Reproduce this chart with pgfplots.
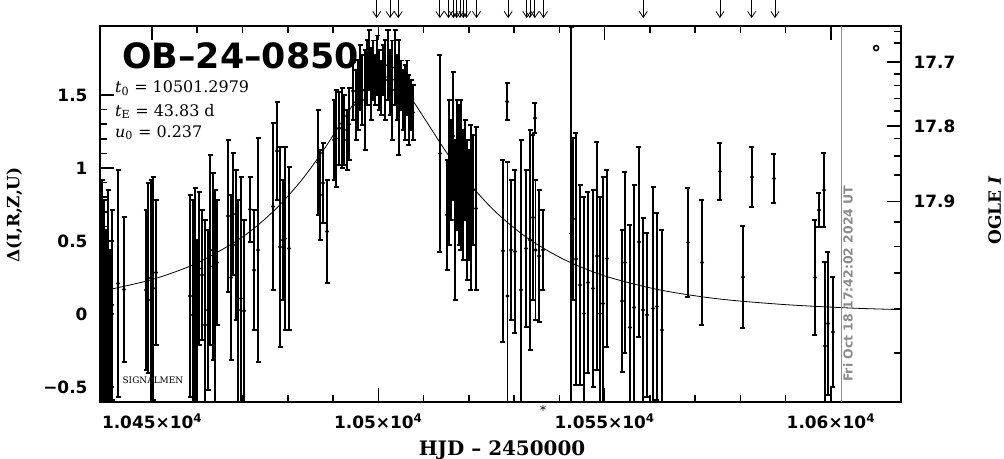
\documentclass[border=0pt]{standalone}
\usepackage{fontspec}
\setmainfont{DejaVu Serif}
\newfontfamily\tickfont{DejaVu Sans}
\usepackage{pgfplots}
\pgfplotsset{compat=1.18}
\usepackage{pgfplotstable}
\usetikzlibrary{arrows.meta}

\pgfplotstableread{
x y e
10438.95 0.062 0.856
10439.39 0.027 0.753
10439.84 -0.041 0.616
10440.28 0.062 0.788
10440.72 -0.212 0.651
10441.16 0.062 0.651
10442.49 0.209 0.777
10443.81 0.168 0.497
10448.67 0.164 0.548
10449.12 0.247 0.651
10449.78 0.096 0.822
10450.22 0.175 0.764
10450.88 0.284 0.497
10458.40 0.123 0.692
10459.06 -0.007 0.788
10459.50 0.068 0.795
10459.94 -0.075 0.582
10460.38 0.312 0.524
10461.05 0.267 0.445
10461.71 -0.075 0.719
10462.37 0.027 0.548
10462.82 0.438 0.651
10463.48 0.325 0.640
10463.92 0.062 0.788
10464.36 0.353 0.428
10466.79 0.671 0.521
10467.46 0.250 0.565
10467.90 0.685 0.418
10468.56 0.473 0.514
10469.00 0.027 0.753
10469.66 0.106 0.832
10470.33 0.021 0.623
10471.65 0.716 0.223
10472.54 0.301 0.411
10473.42 0.438 0.767
10476.73 0.736 0.572
10477.62 1.116 0.336
10478.28 0.459 0.685
10478.94 0.507 0.411
10479.39 0.517 0.627
10480.27 0.449 0.558
10486.68 1.038 0.360
10487.12 0.815 0.308
10487.78 0.897 0.274
10488.67 0.565 0.353
10490.21 1.192 0.274
10490.65 1.202 0.332
10491.32 1.271 0.250
10491.98 1.274 0.274
10492.42 1.260 0.240
10493.09 1.192 0.205
10493.53 1.301 0.247
10494.41 1.527 0.199
10495.07 1.432 0.240
10495.52 1.500 0.240
10495.96 1.620 0.223
10496.40 1.534 0.240
10497.06 1.466 0.342
10497.50 1.654 0.223
10497.95 1.740 0.205
10498.39 1.575 0.247
10498.83 1.671 0.205
10499.27 1.603 0.171
10499.71 1.705 0.205
10500.16 1.603 0.205
10500.60 1.551 0.188
10501.04 1.671 0.171
10501.48 1.603 0.274
10502.14 1.705 0.240
10502.59 1.586 0.223
10503.03 1.534 0.342
10503.69 1.688 0.257
10504.13 1.551 0.223
10504.57 1.483 0.394
10505.02 1.568 0.171
10505.46 1.466 0.205
10505.90 1.449 0.257
10506.34 1.551 0.188
10506.78 1.397 0.240
10507.23 1.432 0.171
10507.67 1.380 0.188
10513.63 1.099 0.675
10515.18 0.678 0.377
10515.62 0.969 0.497
10516.06 0.986 0.342
10516.51 1.219 0.438
10516.95 0.644 0.548
10517.39 1.021 0.445
10517.83 0.952 0.479
10518.27 0.952 0.514
10518.72 0.815 0.445
10519.16 0.986 0.342
10519.60 0.712 0.479
10520.04 0.747 0.377
10520.48 0.729 0.565
10520.92 0.849 0.377
10521.59 0.723 0.558
10527.55 0.432 0.623
10528.44 1.455 0.127
10528.55 0.123 0.918
10529.32 0.438 0.479
10530.20 0.428 0.558
10531.53 0.164 1.027
10532.64 0.449 0.538
10533.52 0.507 0.753
10534.18 0.661 0.565
10534.62 1.342 0.103
10534.73 0.438 0.479
10535.51 0.397 0.452
10536.39 0.438 0.274
10542.58 0.551 1.414
10543.02 0.651 0.555
10543.68 0.377 0.863
10544.57 0.199 0.685
10545.45 0.003 0.798
10546.33 0.216 0.620
10547.44 0.175 0.675
10548.32 0.397 0.781
10548.99 0.003 0.798
10549.65 0.072 0.866
10550.53 0.380 0.606
10553.85 0.089 0.486
10554.51 0.353 0.620
10555.61 -0.092 0.702
10556.50 0.045 0.839
10557.60 0.493 0.651
10558.49 0.027 0.630
10559.37 -0.007 0.562
10560.70 0.038 0.832
10561.58 0.051 0.640
10562.68 -0.110 0.685
10568.43 0.490 0.373
10571.52 0.353 0.428
10575.50 0.976 0.195
10580.58 0.253 0.349
10582.57 0.938 0.205
10587.43 0.928 0.168
10596.49 0.250 0.394
10597.37 0.712 0.116
10598.48 0.849 0.253
10598.70 -0.219 0.575
10599.36 -0.065 0.490
10600.47 -0.123 0.377
}\phot

\pgfplotstableread{
x y
10438.5 0.154
10450.0 0.236
10460.0 0.350
10470.0 0.528
10477.0 0.709
10483.0 0.915
10488.0 1.128
10492.0 1.321
10496.0 1.505
10499.0 1.601
10501.3 1.627
10504.0 1.592
10507.0 1.489
10511.0 1.301
10515.0 1.110
10520.0 0.899
10526.0 0.697
10533.0 0.519
10541.0 0.374
10550.0 0.261
10562.0 0.166
10575.0 0.104
10590.0 0.064
10605.0 0.040
10615.5 0.030
}\model

\pgfplotstableread{
x y
10499.65 2.150
10502.60 2.150
10504.40 2.150
10513.60 2.150
10515.50 2.150
10516.60 2.150
10517.30 2.150
10518.05 2.150
10518.80 2.150
10519.50 2.150
10521.70 2.150
10528.70 2.150
10532.80 2.150
10533.50 2.150
10534.60 2.150
10536.50 2.150
10558.55 2.150
10575.50 2.150
10582.50 2.150
10587.65 2.150
}\arrowsdata

\begin{document}
\begin{tikzpicture}
\pgfplotsset{
  common/.style={
    scale only axis, width=801bp, height=376bp,
    xmin=10438.5, xmax=10615.5, ymin=-0.603, ymax=1.973,
    scaled x ticks=false, scaled y ticks=false,
    axis line style={line width=2bp},
    tick style={line width=1.6bp, black},
    major tick length=14bp, minor tick length=7bp,
    tick align=inside,
    ticklabel style={font=\tickfont\bfseries\fontsize{17}{17}\selectfont},
  }
}
\begin{axis}[common, name=main,
  xtick={10450,10500,10550,10600},
  xticklabels={1.045×10\textsuperscript{4},1.05×10\textsuperscript{4},1.055×10\textsuperscript{4},1.06×10\textsuperscript{4}},
  minor x tick num=4,
  xtick pos=both, ytick pos=left,
  ytick={-0.5,0,0.5,1,1.5},
  yticklabels={−0.5,0,0.5,1,1.5},
  minor y tick num=4,
  xticklabel style={yshift=-8bp},
  yticklabel style={xshift=-9bp},
  xlabel={HJD – 2450000},
  ylabel={Δ(I,R,Z,U)},
  every axis x label/.style={at={(axis description cs:0.502,-0.128)}, anchor=center, font=\bfseries\fontsize{20}{20}\selectfont},
  every axis y label/.style={at={(axis description cs:-0.107,0.497)}, rotate=90, anchor=center, font=\bfseries\fontsize{17}{17}\selectfont},
]
\addplot[black, line width=0.8bp, smooth, tension=0.5] table[x=x,y=y] {\model};
\addplot[black, only marks, mark=*, mark size=1.1bp, line width=1.5bp,
  error bars/.cd, y dir=both, y explicit, error mark=-,
  error bar style={line width=1.5bp, black},
  error mark options={rotate=90, mark size=2.5bp, line width=1.3bp, black}]
  table[x=x,y=y,y error=e] {\phot};
\end{axis}
\begin{axis}[common,
  hide x axis,
  axis y line*=right,
  ytick={0.77,1.288,1.726},
  yticklabels={17.9,17.8,17.7},
  minor ytick={1.934,1.858,1.644,1.564,1.477,1.392,1.203,1.082,0.952,0.632,0.461,0.281,0.034,-0.267},
  yticklabel style={xshift=9bp},
  clip=false,
  ylabel={OGLE \textit{I}},
  every axis y label/.style={at={(axis description cs:1.117,0.51)}, rotate=90, anchor=center, font=\bfseries\fontsize{17}{17}\selectfont},
]
\addplot[black, line width=0.8bp, quiver={u=0, v=-0.123}, -{Straight Barb[length=6bp,width=8bp]}] table[x=x,y=y] {\arrowsdata};
\addplot[black, only marks, mark=o, mark size=2.5bp, line width=1.5bp] coordinates {(10610,1.822)};
\draw[black!45, line width=1bp] (axis cs:10602.45,-0.603) -- (axis cs:10602.45,1.973);
\node[black!45, rotate=90, anchor=west, inner sep=0pt, font=\tickfont\bfseries\fontsize{12.5}{12.5}\selectfont] at (axis cs:10603.8,-0.466) {Fri Oct 18 17:42:02 2024 UT};
\node[anchor=base west, inner sep=0pt, font=\tickfont\bfseries\fontsize{35}{35}\selectfont] at (axis cs:10443.37,1.685) {OB–24–0850};
\node[anchor=base west, inner sep=0pt, font=\fontsize{16}{16}\selectfont] at (axis cs:10441.82,1.514) {\textit{t}\textsubscript{0} = 10501.2979};
\node[anchor=base west, inner sep=0pt, font=\fontsize{16}{16}\selectfont] at (axis cs:10441.82,1.356) {\textit{t}\textsubscript{E} = 43.83 d};
\node[anchor=base west, inner sep=0pt, font=\fontsize{16}{16}\selectfont] at (axis cs:10441.82,1.212) {\textit{u}\textsubscript{0} = 0.237};
\node[inner sep=0pt, font=\fontsize{9}{9}\selectfont] at (axis cs:10450.2,-0.452) {SIGNALMEN};
\node[inner sep=0pt, font=\fontsize{12}{12}\selectfont] at (axis cs:10536.4,-0.655) {*};
\end{axis}
\pgfresetboundingbox
\path ([shift={(-100bp,-57bp)}]main.south west) rectangle ([shift={(103bp,26bp)}]main.north east);
\end{tikzpicture}
\end{document}
